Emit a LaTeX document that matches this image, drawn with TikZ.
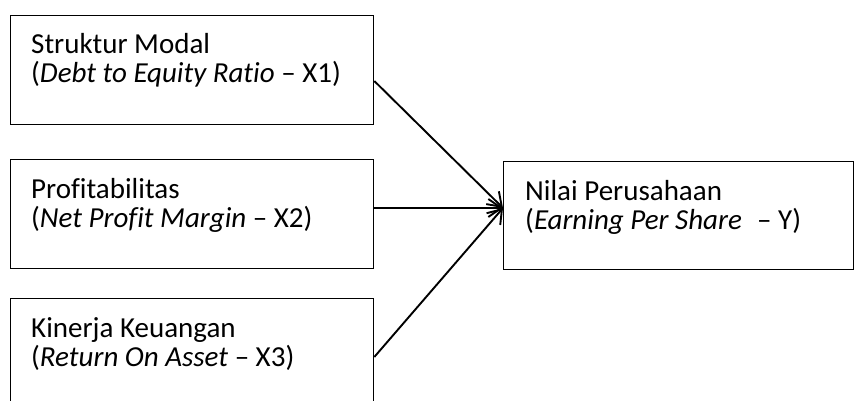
\documentclass[tikz,border=0pt]{standalone}
\usepackage{fontspec}
\setmainfont{Carlito}[Ligatures={NoCommon}]
\usetikzlibrary{arrows.meta}
\tikzset{
  box/.style={draw=black, line width=1.3pt, rectangle, inner sep=0pt, anchor=north west},
  lbl/.style={anchor=base west, inner sep=0pt, font=\fontsize{29}{35}\selectfont},
  link/.style={line width=1.9pt, -{Straight Barb[length=13pt,width=18pt,line width=1.9pt]}}
}
\begin{document}
\begin{tikzpicture}[x=1pt,y=-1pt]
  \useasboundingbox (0,0) rectangle (854,401);
  \clip (0,0) rectangle (854,401);
  % independent variables
  \node[box, minimum width=363pt, minimum height=109pt] (x1) at (10,15) {};
  \node[box, minimum width=363pt, minimum height=109pt] (x2) at (10,159) {};
  \node[box, minimum width=363pt, minimum height=120pt] (x3) at (10,298) {};
  % dependent variable
  \node[box, minimum width=350pt, minimum height=108pt] (y) at (503,161) {};
  % labels
  \node[lbl] (x1a) at (31,54) {Struktur Modal};
  \node[lbl] (x1b) at (31,83) {(\textit{Debt to Equity Ratio} – X1)};
  \node[lbl] (x2a) at (31,198) {Profitabilitas};
  \node[lbl] (x2b) at (31,227) {(\textit{Net Profit Margin} – X2)};
  \node[lbl] (x3a) at (31,337) {Kinerja Keuangan};
  \node[lbl] (x3b) at (31,366) {(\textit{Return On Asset} – X3)};
  \node[lbl] (ya) at (525,200) {Nilai Perusahaan};
  \node[lbl] (yb) at (525,229) {(\textit{Earning Per Share}\hspace{0.3em} – Y)};
  % connector end points on the box edges
  \coordinate (s1) at (x1.east |- 0,81);
  \coordinate (s2) at (x2.east |- 0,208);
  \coordinate (s3) at (x3.east |- 0,357);
  \coordinate (t) at (y.west |- 0,208);
  \draw[link] (s1) -- (t);
  \draw[link] (s2) -- (t);
  \draw[link] (s3) -- (t);
\end{tikzpicture}
\end{document}
